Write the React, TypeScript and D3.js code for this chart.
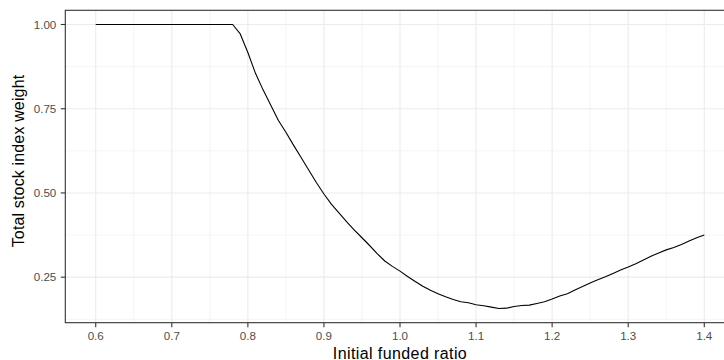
import React from "react";
import * as d3 from "d3";

const fundedRatio: number[] = [
  0.6, 0.61, 0.62, 0.63, 0.64, 0.65, 0.66, 0.67, 0.68, 0.69,
  0.7, 0.71, 0.72, 0.73, 0.74, 0.75, 0.76, 0.77, 0.78, 0.79,
  0.8, 0.81, 0.82, 0.83, 0.84, 0.85, 0.86, 0.87, 0.88, 0.89,
  0.9, 0.91, 0.92, 0.93, 0.94, 0.95, 0.96, 0.97, 0.98, 0.99,
  1.0, 1.01, 1.02, 1.03, 1.04, 1.05, 1.06, 1.07, 1.08, 1.09,
  1.1, 1.11, 1.12, 1.13, 1.14, 1.15, 1.16, 1.17, 1.18, 1.19,
  1.2, 1.21, 1.22, 1.23, 1.24, 1.25, 1.26, 1.27, 1.28, 1.29,
  1.3, 1.31, 1.32, 1.33, 1.34, 1.35, 1.36, 1.37, 1.38, 1.39,
  1.4,
];

const stockWeight: number[] = [
  1, 1, 1, 1, 1, 1, 1, 1, 1, 1,
  1, 1, 1, 1, 1, 1, 1, 1, 1, 0.972,
  0.917, 0.855, 0.806, 0.761, 0.716, 0.68, 0.642, 0.605, 0.568, 0.531,
  0.497, 0.466, 0.44, 0.414, 0.39, 0.367, 0.344, 0.32, 0.298, 0.282,
  0.268, 0.252, 0.237, 0.223, 0.211, 0.201, 0.192, 0.184, 0.177, 0.174,
  0.168, 0.165, 0.161, 0.157, 0.158, 0.163, 0.166, 0.167, 0.172, 0.177,
  0.185, 0.194, 0.201, 0.212, 0.222, 0.233, 0.242, 0.251, 0.261, 0.271,
  0.28, 0.29, 0.301, 0.312, 0.322, 0.331, 0.338, 0.347, 0.357, 0.367,
  0.375,
];

const xTicks: number[] = [0.6, 0.7, 0.8, 0.9, 1.0, 1.1, 1.2, 1.3, 1.4];
const xMinor: number[] = [0.65, 0.75, 0.85, 0.95, 1.05, 1.15, 1.25, 1.35];
const yTicks: number[] = [0.25, 0.5, 0.75, 1.0];
const yMinor: number[] = [0.125, 0.375, 0.625, 0.875];

const xTitle = "Initial funded ratio";
const yTitle = "Total stock index weight";

const W = 724;
const H = 360;
const FONT = "'Liberation Sans', Arial, Helvetica, sans-serif";

export default function App() {
  const left = 65.3;
  const top = 10.3;
  const bottom = 322.7;
  const right = 734.7;

  const xMin = d3.min(fundedRatio)!;
  const xMax = d3.max(fundedRatio)!;
  const yMin = d3.min(stockWeight)!;
  const yMax = d3.max(stockWeight)!;
  const xPad = (xMax - xMin) * 0.05;
  const yPad = (yMax - yMin) * 0.05;

  const x = d3.scaleLinear().domain([xMin - xPad, xMax + xPad]).range([left, right]);
  const y = d3.scaleLinear().domain([yMin - yPad, yMax + yPad]).range([bottom, top]);

  const data = fundedRatio.map((f, i) => [f, stockWeight[i]] as [number, number]);
  const line = d3.line<[number, number]>().x((d) => x(d[0])).y((d) => y(d[1]));

  const grid = "#EBEBEB";
  const dark = "#333333";
  const tickCol = "#4D4D4D";

  return (
    <div style={{ position: "fixed", left: 0, top: 0, width: W, height: H, background: "#fff" }}>
      <svg width={W} height={H} style={{ display: "block" }}>
        <rect x={0} y={0} width={W} height={H} fill="#fff" />
        <g>
          {yMinor.map((t) => (
            <line key={"ym" + t} x1={left} x2={right} y1={y(t)} y2={y(t)} stroke={grid} strokeWidth={0.55} />
          ))}
          {xMinor.map((t) => (
            <line key={"xm" + t} y1={top} y2={bottom} x1={x(t)} x2={x(t)} stroke={grid} strokeWidth={0.55} />
          ))}
          {yTicks.map((t) => (
            <line key={"yM" + t} x1={left} x2={right} y1={y(t)} y2={y(t)} stroke={grid} strokeWidth={1.1} />
          ))}
          {xTicks.map((t) => (
            <line key={"xM" + t} y1={top} y2={bottom} x1={x(t)} x2={x(t)} stroke={grid} strokeWidth={1.1} />
          ))}
        </g>
        <path d={line(data) || ""} fill="none" stroke="#000" strokeWidth={1.1} strokeLinejoin="round" />
        <rect x={left} y={top} width={right - left} height={bottom - top} fill="none" stroke={dark} strokeWidth={1.1} />
        {yTicks.map((t) => (
          <g key={"yt" + t}>
            <line x1={left - 4.5} x2={left} y1={y(t)} y2={y(t)} stroke={dark} strokeWidth={1.1} />
            <text x={left - 9} y={y(t)} dy="0.36em" textAnchor="end" fontFamily={FONT} fontSize={11.6} fill={tickCol}>
              {d3.format(".2f")(t)}
            </text>
          </g>
        ))}
        {xTicks.map((t) => (
          <g key={"xt" + t}>
            <line x1={x(t)} x2={x(t)} y1={bottom} y2={bottom + 4.5} stroke={dark} strokeWidth={1.1} />
            <text x={x(t)} y={340.3} textAnchor="middle" fontFamily={FONT} fontSize={11.6} fill={tickCol}>
              {d3.format(".1f")(t)}
            </text>
          </g>
        ))}
        <text x={400} y={358.5} textAnchor="middle" fontFamily={FONT} fontSize={16} fill="#000" letterSpacing={0.4}>
          {xTitle}
        </text>
        <text
          transform={`translate(23.6, 161) rotate(-90)`}
          textAnchor="middle"
          fontFamily={FONT}
          fontSize={16}
          fill="#000"
          letterSpacing={0.15}
        >
          {yTitle}
        </text>
      </svg>
    </div>
  );
}
